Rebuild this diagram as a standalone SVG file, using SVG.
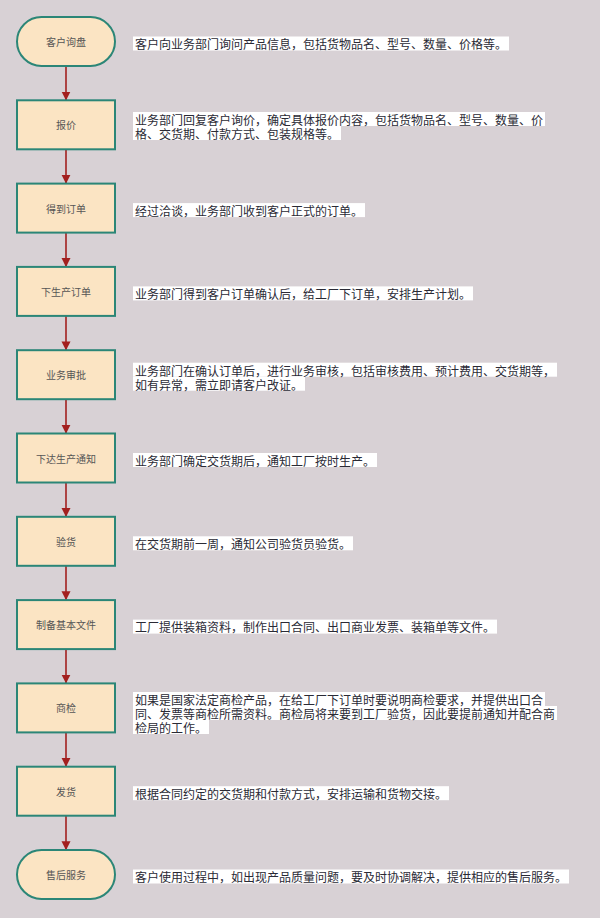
<svg xmlns="http://www.w3.org/2000/svg" width="600" height="918" viewBox="0 0 600 918">
<defs>
<style>
.bg{fill:#d8d1d5}
.node{fill:#fbe4c3;stroke:#2b8677;stroke-width:2}
.lbl{font-family:"Noto Sans CJK SC","Noto Sans",sans-serif;font-size:10px;fill:#555;text-anchor:middle;dominant-baseline:central}
.desc{font-family:"Noto Sans CJK SC","Noto Sans",sans-serif;font-size:12px;fill:#2a2a35;dominant-baseline:central}
.hl{fill:#ffffff}
.edge{stroke:#a3201f;stroke-width:1.6;fill:none;marker-end:url(#ah)}
</style>
<marker id="ah" markerWidth="9" markerHeight="10" refX="8.5" refY="4.5" orient="auto" markerUnits="userSpaceOnUse" viewBox="0 0 9 9">
<path d="M0,0 L9,4.5 L0,9 z" fill="#a3201f"/>
</marker>
</defs>
<rect class="bg" x="0" y="0" width="600" height="918"/>

<g id="connectors">
<line class="edge" x1="66" y1="66" x2="66" y2="100"/>
<line class="edge" x1="66" y1="149.3" x2="66" y2="183.3"/>
<line class="edge" x1="66" y1="232.6" x2="66" y2="266.6"/>
<line class="edge" x1="66" y1="315.9" x2="66" y2="349.9"/>
<line class="edge" x1="66" y1="399.2" x2="66" y2="433.2"/>
<line class="edge" x1="66" y1="482.5" x2="66" y2="516.5"/>
<line class="edge" x1="66" y1="565.8" x2="66" y2="599.8"/>
<line class="edge" x1="66" y1="649.1" x2="66" y2="683.1"/>
<line class="edge" x1="66" y1="732.4" x2="66" y2="766.4"/>
<line class="edge" x1="66" y1="815.7" x2="66" y2="849.7"/>
</g>

<g id="n1">
<rect class="node" x="17" y="17" width="98" height="49" rx="24.5" ry="24.5"/>
<text class="lbl" x="66" y="41.5">客户询盘</text>
<rect class="hl" x="133" y="36.5" width="376" height="14"/>
<text class="desc" x="135" y="43.5">客户向业务部门询问产品信息，包括货物品名、型号、数量、价格等。</text>
</g>

<g id="n2">
<rect class="node" x="17" y="100.3" width="98" height="49"/>
<text class="lbl" x="66" y="124.8">报价</text>
<rect class="hl" x="133" y="112" width="412" height="14"/>
<rect class="hl" x="133" y="126" width="208" height="14"/>
<text class="desc"><tspan x="135" y="119">业务部门回复客户询价，确定具体报价内容，包括货物品名、型号、数量、价</tspan><tspan x="135" y="133">格、交货期、付款方式、包装规格等。</tspan></text>
</g>

<g id="n3">
<rect class="node" x="17" y="183.6" width="98" height="49"/>
<text class="lbl" x="66" y="208.1">得到订单</text>
<rect class="hl" x="133" y="203.1" width="232" height="14"/>
<text class="desc" x="135" y="210.1">经过洽谈，业务部门收到客户正式的订单。</text>
</g>

<g id="n4">
<rect class="node" x="17" y="266.9" width="98" height="49"/>
<text class="lbl" x="66" y="291.4">下生产订单</text>
<rect class="hl" x="133" y="286.4" width="340" height="14"/>
<text class="desc" x="135" y="293.4">业务部门得到客户订单确认后，给工厂下订单，安排生产计划。</text>
</g>

<g id="n5">
<rect class="node" x="17" y="350.2" width="98" height="49"/>
<text class="lbl" x="66" y="374.7">业务审批</text>
<rect class="hl" x="133" y="362.7" width="424" height="14"/>
<rect class="hl" x="133" y="376.7" width="172" height="14"/>
<text class="desc"><tspan x="135" y="369.7">业务部门在确认订单后，进行业务审核，包括审核费用、预计费用、交货期等，</tspan><tspan x="135" y="383.7">如有异常，需立即请客户改证。</tspan></text>
</g>

<g id="n6">
<rect class="node" x="17" y="433.5" width="98" height="49"/>
<text class="lbl" x="66" y="458">下达生产通知</text>
<rect class="hl" x="133" y="453" width="244" height="14"/>
<text class="desc" x="135" y="460">业务部门确定交货期后，通知工厂按时生产。</text>
</g>

<g id="n7">
<rect class="node" x="17" y="516.8" width="98" height="49"/>
<text class="lbl" x="66" y="541.3">验货</text>
<rect class="hl" x="133" y="536.3" width="220" height="14"/>
<text class="desc" x="135" y="543.3">在交货期前一周，通知公司验货员验货。</text>
</g>

<g id="n8">
<rect class="node" x="17" y="600.1" width="98" height="49"/>
<text class="lbl" x="66" y="624.6">制备基本文件</text>
<rect class="hl" x="133" y="619.6" width="364" height="14"/>
<text class="desc" x="135" y="626.6">工厂提供装箱资料，制作出口合同、出口商业发票、装箱单等文件。</text>
</g>

<g id="n9">
<rect class="node" x="17" y="683.4" width="98" height="49"/>
<text class="lbl" x="66" y="707.9">商检</text>
<rect class="hl" x="133" y="692" width="412" height="14"/>
<rect class="hl" x="133" y="706" width="424" height="14"/>
<rect class="hl" x="133" y="720" width="76" height="14"/>
<text class="desc"><tspan x="135" y="699">如果是国家法定商检产品，在给工厂下订单时要说明商检要求，并提供出口合</tspan><tspan x="135" y="713">同、发票等商检所需资料。商检局将来要到工厂验货，因此要提前通知并配合商</tspan><tspan x="135" y="727">检局的工作。</tspan></text>
</g>

<g id="n10">
<rect class="node" x="17" y="766.7" width="98" height="49"/>
<text class="lbl" x="66" y="791.2">发货</text>
<rect class="hl" x="133" y="786.2" width="316" height="14"/>
<text class="desc" x="135" y="793.2">根据合同约定的交货期和付款方式，安排运输和货物交接。</text>
</g>

<g id="n11">
<rect class="node" x="17" y="850" width="98" height="49" rx="24.5" ry="24.5"/>
<text class="lbl" x="66" y="874.5">售后服务</text>
<rect class="hl" x="133" y="869.5" width="436" height="14"/>
<text class="desc" x="135" y="876.5">客户使用过程中，如出现产品质量问题，要及时协调解决，提供相应的售后服务。</text>
</g>
</svg>
